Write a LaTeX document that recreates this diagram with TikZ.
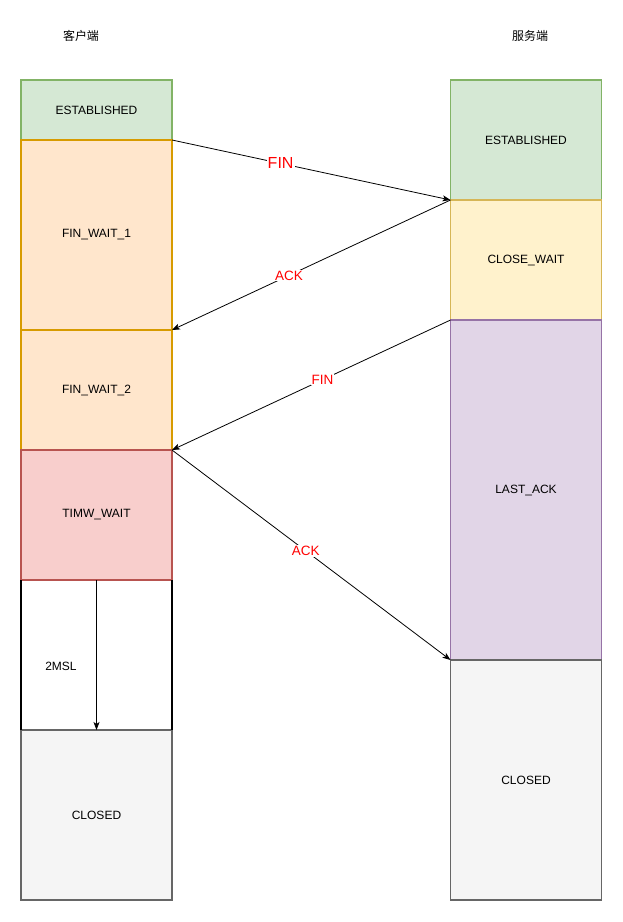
\documentclass[tikz,border=0pt]{standalone}
\usepackage{fontspec}
\setmainfont{Liberation Sans}
\newfontfamily\cjk{Noto Sans CJK SC}
\usetikzlibrary{arrows.meta}
\definecolor{estfill}{HTML}{D5E8D4}\definecolor{estline}{HTML}{82B366}
\definecolor{finfill}{HTML}{FFE6CC}\definecolor{finline}{HTML}{D79B00}
\definecolor{cwfill}{HTML}{FFF2CC}\definecolor{cwline}{HTML}{D6B656}
\definecolor{twfill}{HTML}{F8CECC}\definecolor{twline}{HTML}{B85450}
\definecolor{lafill}{HTML}{E1D5E7}\definecolor{laline}{HTML}{9673A6}
\definecolor{clfill}{HTML}{F5F5F5}\definecolor{clline}{HTML}{666666}
\begin{document}
\begin{tikzpicture}[font=\fontsize{12}{14}\selectfont,>={Stealth[length=8pt,width=6pt,inset=2pt]},
	state/.style={rectangle,draw,line width=1.6pt,minimum width=151pt,inner sep=0pt,outer sep=0pt,anchor=north},
	msg/.style={->,line width=0.8pt},
	tag/.style={fill=white,text=red,inner sep=1pt,font=\fontsize{13.5}{15}\selectfont}]
	\useasboundingbox (0,0) rectangle (622pt,-922pt);

	\node (client) at (81pt,-36pt) {\cjk 客户端};
	\node (server) at (530pt,-36pt) {\cjk 服务端};

	% client side
	\node (estc)[state,fill=estfill,draw=estline,minimum height=60pt] at (96.5pt,-80pt) {ESTABLISHED};
	\node (fw1)[state,fill=finfill,draw=finline,minimum height=190pt] at (estc.south) {FIN\_WAIT\_1};
	\node (fw2)[state,fill=finfill,draw=finline,minimum height=120pt] at (fw1.south) {FIN\_WAIT\_2};
	\node (tw)[state,fill=twfill,draw=twline,minimum height=130pt] at (fw2.south) {TIMW\_WAIT};
	\node (gap)[state,draw=none,minimum height=150pt] at (tw.south) {};
	\node (closedc)[state,fill=clfill,draw=clline,minimum height=170pt] at (gap.south) {CLOSED};
	\draw[line width=1.6pt] (gap.north west) -- (gap.south west) (gap.north east) -- (gap.south east);
	\node (msl) at (61pt,-666pt) {2MSL};
	\draw[msg] (tw.south) -- (closedc.north);

	% server side
	\node (ests)[state,fill=estfill,draw=estline,minimum height=120pt] at (526pt,-80pt) {ESTABLISHED};
	\node (cw)[state,fill=cwfill,draw=cwline,minimum height=120pt] at (ests.south) {CLOSE\_WAIT};
	\node (la)[state,fill=lafill,draw=laline,minimum height=340pt] at (cw.south) {LAST\_ACK};
	\node (closeds)[state,fill=clfill,draw=clline,minimum height=240pt] at (la.south) {CLOSED};

	\draw[msg](estc.south east) -- node[tag,pos=.39,font=\fontsize{16}{18}\selectfont]{FIN} (ests.south west);
	\draw[msg](ests.south west) -- node[tag,pos=.58]{ACK} (fw1.south east);
	\draw[msg](cw.south west) -- node[tag,pos=.46]{FIN} (fw2.south east);
	\draw[msg](tw.north east) -- node[tag,pos=.48]{ACK} (la.south west);
\end{tikzpicture}
\end{document}
